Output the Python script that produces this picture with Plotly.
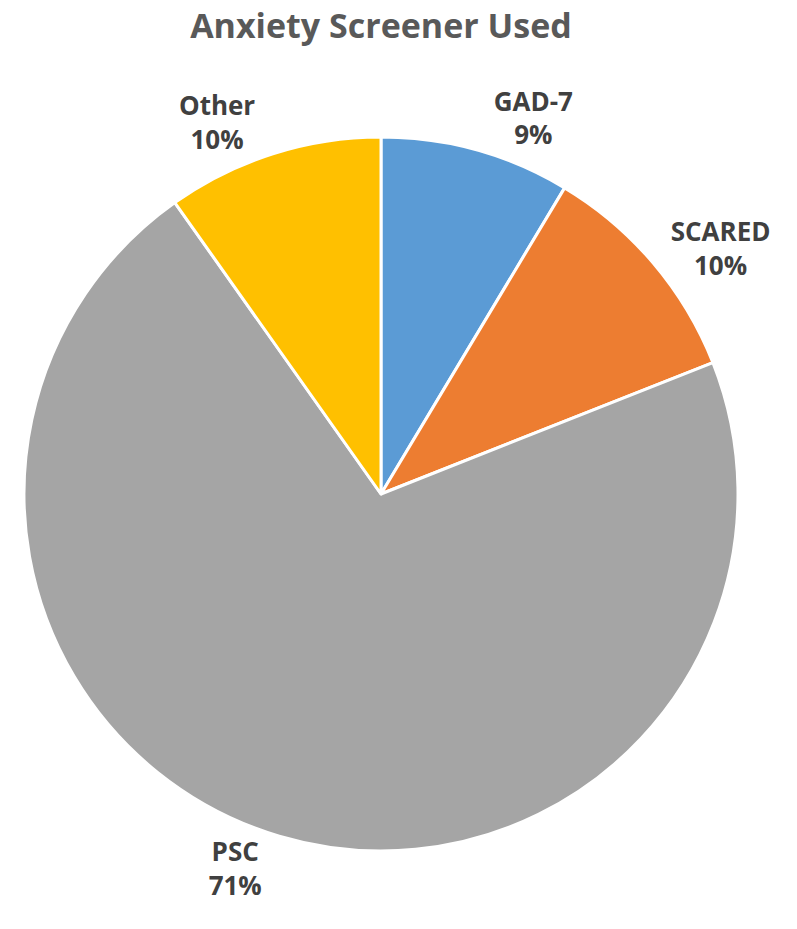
import plotly.graph_objects as go

labels = ["GAD-7", "SCARED", "PSC", "Other"]
values = [8.6, 10.4, 71.2, 9.8]
colors = ["#5B9BD5", "#ED7D31", "#A5A5A5", "#FFC000"]

fig = go.Figure(go.Pie(
    labels=labels,
    values=values,
    sort=False,
    direction="clockwise",
    rotation=0,
    marker=dict(colors=colors, line=dict(color="white", width=3)),
    texttemplate="%{label}<br>%{percent:.0%}",
    textposition="outside",
    outsidetextfont=dict(family="Open Sans", size=26, color="#404040", weight="bold"),
    showlegend=False,
    hole=0,
))

fig.update_layout(
    width=797, height=929,
    margin=dict(l=24, r=59, t=137, b=78, autoexpand=False),
    paper_bgcolor="white",
    plot_bgcolor="white",
    title=dict(text="<b>Anxiety Screener Used</b>", x=0.478, xanchor="center", y=0.972, yanchor="middle",
               font=dict(family="Open Sans", size=34, color="#595959")),
)

fig.write_html("out.html")
